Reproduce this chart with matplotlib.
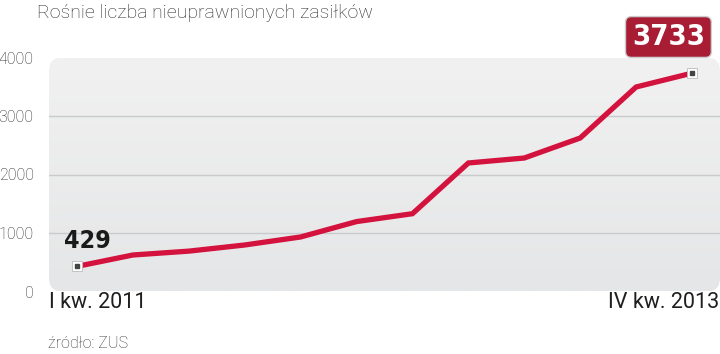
import numpy as np
import matplotlib
matplotlib.use('Agg')
import matplotlib.pyplot as plt
from matplotlib.patches import FancyBboxPatch

# Data: quarterly count, I kw. 2011 .. IV kw. 2013
quarters = ['I kw. 2011', 'II kw. 2011', 'III kw. 2011', 'IV kw. 2011',
            'I kw. 2012', 'II kw. 2012', 'III kw. 2012', 'IV kw. 2012',
            'I kw. 2013', 'II kw. 2013', 'III kw. 2013', 'IV kw. 2013']
values = [429, 624, 690, 795, 932, 1195, 1330, 2197, 2282, 2624, 3496, 3733]
yticks = [0, 1000, 2000, 3000, 4000]

title = 'Rośnie liczba nieuprawnionych zasiłków'
source = 'źródło: ZUS'

W, H = 720, 354
fig = plt.figure(figsize=(W / 100, H / 100), dpi=100)

# plot area in pixels: x 49..720, y 57.5..291.5 (from top)
ax = fig.add_axes([49 / W, (H - 291.5) / H, (720 - 49) / W, (291.5 - 57.5) / H])
ax.set_facecolor('none')
ax.set_xlim(-0.5, 11.5)
ax.set_ylim(0, 4000)

# rounded grey background with a faint vertical gradient
bg = FancyBboxPatch((0, 0), 1, 1, transform=ax.transAxes,
                    boxstyle='round,pad=0,rounding_size=0.02',
                    mutation_aspect=(720 - 49) / (291.5 - 57.5),
                    facecolor='none', edgecolor='none', zorder=0)
ax.add_patch(bg)
grad = np.linspace(0, 1, 100).reshape(-1, 1)
img = ax.imshow(grad, extent=(-0.5, 11.5, 0, 4000), aspect='auto',
                cmap=matplotlib.colors.LinearSegmentedColormap.from_list(
                    'g', ['#e5e6e7', '#f1f1f1']),
                origin='lower', zorder=0)
img.set_clip_path(bg)

for s in ax.spines.values():
    s.set_visible(False)

for yv in yticks[1:-1]:
    ax.axhline(yv, color='#c9cacb', lw=1, zorder=1)

ax.set_yticks(yticks)
ax.set_yticklabels([str(v) for v in yticks], fontsize=11.5, color='#262626',
                   fontfamily='Roboto', fontweight='light')
ax.tick_params(axis='y', length=0, pad=11)
ax.set_xticks([])

x = np.arange(len(values))
ax.plot(x, values, color='#d3123d', lw=3.8, solid_joinstyle='miter', zorder=3)

# end markers
for i in (0, len(values) - 1):
    ax.plot(x[i], values[i], marker='s', ms=7, mfc='white', mec='#bbbbbb',
            mew=0.6, zorder=4)
    ax.plot(x[i], values[i], marker='s', ms=3, mfc='#444444', mec='#444444',
            zorder=5)

cond = dict(family=['DejaVu Sans'], fontstretch='condensed', fontweight='bold')

ax.annotate(str(values[0]), (x[0], values[0]), xytext=(-9, 10),
            textcoords='offset points', fontsize=18, color='#1a1a1a',
            ha='left', va='bottom', **cond)

ax.annotate(str(values[-1]), (x[-1], values[-1]), xytext=(-17, 26),
            textcoords='offset points', fontsize=21, color='white',
            ha='center', va='center', annotation_clip=False,
            bbox=dict(boxstyle='round,pad=0.22,rounding_size=0.2',
                      fc='#a81c34', ec='#cccccc', lw=1), **cond)

# x end labels
fig.text(49 / W, 1 - 303 / H, quarters[0], fontsize=15.5, color='#1e1e1e',
         ha='left', va='center', fontfamily='Roboto')
fig.text(719 / W, 1 - 303 / H, quarters[-1], fontsize=15.5, color='#1e1e1e',
         ha='right', va='center', fontfamily='Roboto')

fig.text(37 / W, 1 - 13 / H, title, fontsize=14, color='#2a2a2a',
         ha='left', va='center', fontfamily='Roboto', fontweight='light')
fig.text(48 / W, 1 - 344 / H, source, fontsize=11.5, color='#333333',
         ha='left', va='center', fontfamily='Roboto', fontweight='light')

fig.savefig('out.png', dpi=100)
